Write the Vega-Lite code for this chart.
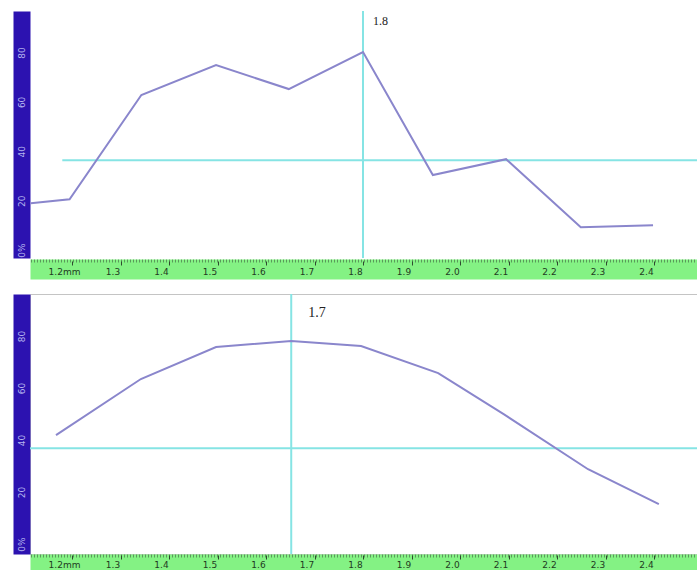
{
  "$schema": "https://vega.github.io/schema/vega-lite/v6.json",
  "background": "white",
  "padding": {"left": 17, "top": 10, "right": 0, "bottom": 0},
  "spacing": 36,
  "bounds": "flush",
  "config": {"view": {"stroke": null}, "font": "DejaVu Sans"},
  "vconcat": [
    {
      "width": 668,
      "height": 247,
      "resolve": {"axis": {"x": "independent", "y": "independent"}},
      "layer": [
        {
          "data": {"values": [{"start": 1.18, "end": 2.4907, "level": 36.4}]},
          "mark": {"type": "rule", "color": "#86e4e4", "strokeWidth": 2},
          "encoding": {
            "x": {"field": "start", "type": "quantitative", "scale": {"domain": [1.1134, 2.4907], "nice": false, "zero": false},
              "axis": {"orient": "bottom", "labels": false, "ticks": false, "grid": false, "title": null,
                "domainColor": "#84f284", "domainWidth": 20, "offset": 11, "zindex": 0}},
            "x2": {"field": "end"},
            "y": {"field": "level", "type": "quantitative", "scale": {"domain": [-3.2, 96.8], "nice": false, "zero": false},
              "axis": {"orient": "left", "labels": false, "ticks": false, "grid": false, "title": null,
                "domainColor": "#2c12b0", "domainWidth": 17, "offset": 8.5, "zindex": 0}}
          }
        },
        {
          "data": {"values": [{"cursor": 1.8, "label": "1.8"}]},
          "mark": {"type": "rule", "color": "#86e4e4", "strokeWidth": 2},
          "encoding": {
            "x": {"field": "cursor", "type": "quantitative", "axis": null}
          }
        },
        {
          "data": {"values": [{"tick": -3.2}]},
          "mark": {"type": "rule", "color": "#3d5f3d", "strokeWidth": 3, "strokeDash": [1, 2], "yOffset": 3, "opacity": 0.6},
          "encoding": {"y": {"field": "tick", "type": "quantitative", "axis": null}}
        },
        {
          "data": {"values": [
            {"pos": 1.115, "amp": 19.0}, {"pos": 1.195, "amp": 20.6}, {"pos": 1.343, "amp": 62.8},
            {"pos": 1.497, "amp": 74.9}, {"pos": 1.647, "amp": 65.2}, {"pos": 1.8, "amp": 80.2},
            {"pos": 1.944, "amp": 30.4}, {"pos": 2.095, "amp": 36.8}, {"pos": 2.249, "amp": 9.3},
            {"pos": 2.398, "amp": 10.1}
          ]},
          "mark": {"type": "line", "color": "#8a86cc", "strokeWidth": 2},
          "encoding": {
            "x": {"field": "pos", "type": "quantitative",
              "axis": {"orient": "bottom", "values": [1.2, 1.3, 1.4, 1.5, 1.6, 1.7, 1.8, 1.9, 2.0, 2.1, 2.2, 2.3, 2.4, 2.5],
                "labelExpr": "datum.value == 1.2 ? '1.2mm' : datum.label", "title": null, "grid": false,
                "domain": false, "offset": 7, "ticks": true, "tickSize": -4, "tickColor": "#2f4a2f", "tickWidth": 1, "zindex": 2,
                "labelPadding": 10, "labelBaseline": "middle", "labelAlign": "center", "labelOffset": -8,
                "labelFontSize": 9, "labelColor": "#1f3a1f", "labelFlush": false, "labelOverlap": false, "labelBound": false}},
            "y": {"field": "amp", "type": "quantitative",
              "axis": {"orient": "left", "values": [0, 20, 40, 60, 80], "labelExpr": "datum.value == 0 ? '0%' : datum.label",
                "title": null, "grid": false, "domain": false, "offset": 8.5, "zindex": 2,
                "ticks": false, "tickSize": 0, "labelPadding": 0, "labelAngle": 270, "labelAlign": "center",
                "labelBaseline": "middle", "labelFontSize": 9, "labelColor": "#b4b4ee", "labelFlush": false,
                "labelOverlap": false, "labelBound": false}}
          }
        },
        {
          "data": {"values": [{"cursor": 1.8, "label": "1.8"}]},
          "mark": {"type": "text", "font": "Liberation Serif", "fontSize": 12, "align": "left", "baseline": "middle", "dx": 10, "color": "#222222"},
          "encoding": {
            "x": {"field": "cursor", "type": "quantitative", "axis": null},
            "y": {"datum": 92.7, "axis": null},
            "text": {"field": "label"}
          }
        },
        {
          "mark": {"type": "text", "text": "(a)", "font": "Liberation Serif", "fontSize": 24, "align": "right", "baseline": "middle", "color": "#111111"},
          "encoding": {
            "x": {"datum": 2.456, "axis": null},
            "y": {"datum": 92.7, "axis": null}
          }
        }
      ]
    },
    {
      "width": 668,
      "height": 260,
      "view": {"stroke": "#c4c4c4", "strokeWidth": 1},
      "resolve": {"axis": {"x": "independent", "y": "independent"}},
      "layer": [
        {
          "data": {"values": [{"start": 1.1134, "end": 2.4907, "level": 36.9}]},
          "mark": {"type": "rule", "color": "#86e4e4", "strokeWidth": 2},
          "encoding": {
            "x": {"field": "start", "type": "quantitative", "scale": {"domain": [1.1134, 2.4907], "nice": false, "zero": false},
              "axis": {"orient": "bottom", "labels": false, "ticks": false, "grid": false, "title": null,
                "domainColor": "#84f284", "domainWidth": 18, "offset": 9, "zindex": 0}},
            "x2": {"field": "end"},
            "y": {"field": "level", "type": "quantitative", "scale": {"domain": [-3.8, 96.2], "nice": false, "zero": false},
              "axis": {"orient": "left", "labels": false, "ticks": false, "grid": false, "title": null,
                "domainColor": "#2c12b0", "domainWidth": 17, "offset": 8.5, "zindex": 0}}
          }
        },
        {
          "data": {"values": [{"cursor": 1.652, "label": "1.7"}]},
          "mark": {"type": "rule", "color": "#86e4e4", "strokeWidth": 2},
          "encoding": {
            "x": {"field": "cursor", "type": "quantitative", "axis": null}
          }
        },
        {
          "data": {"values": [{"tick": -3.8}]},
          "mark": {"type": "rule", "color": "#3d5f3d", "strokeWidth": 3, "strokeDash": [1, 2], "yOffset": 2, "opacity": 0.6},
          "encoding": {"y": {"field": "tick", "type": "quantitative", "axis": null}}
        },
        {
          "data": {"values": [
            {"pos": 1.167, "amp": 41.9}, {"pos": 1.342, "amp": 63.5}, {"pos": 1.497, "amp": 75.8},
            {"pos": 1.652, "amp": 78.1}, {"pos": 1.796, "amp": 76.2}, {"pos": 1.955, "amp": 65.8},
            {"pos": 2.09, "amp": 50.0}, {"pos": 2.264, "amp": 28.8}, {"pos": 2.41, "amp": 15.4}
          ]},
          "mark": {"type": "line", "color": "#8a86cc", "strokeWidth": 2},
          "encoding": {
            "x": {"field": "pos", "type": "quantitative",
              "axis": {"orient": "bottom", "values": [1.2, 1.3, 1.4, 1.5, 1.6, 1.7, 1.8, 1.9, 2.0, 2.1, 2.2, 2.3, 2.4, 2.5],
                "labelExpr": "datum.value == 1.2 ? '1.2mm' : datum.label", "title": null, "grid": false,
                "domain": false, "offset": 5, "ticks": true, "tickSize": -4, "tickColor": "#2f4a2f", "tickWidth": 1, "zindex": 2,
                "labelPadding": 9, "labelBaseline": "middle", "labelAlign": "center", "labelOffset": -8,
                "labelFontSize": 9, "labelColor": "#1f3a1f", "labelFlush": false, "labelOverlap": false, "labelBound": false}},
            "y": {"field": "amp", "type": "quantitative",
              "axis": {"orient": "left", "values": [0, 20, 40, 60, 80], "labelExpr": "datum.value == 0 ? '0%' : datum.label",
                "title": null, "grid": false, "domain": false, "offset": 8.5, "zindex": 2,
                "ticks": false, "tickSize": 0, "labelPadding": 0, "labelAngle": 270, "labelAlign": "center",
                "labelBaseline": "middle", "labelFontSize": 9, "labelColor": "#b4b4ee", "labelFlush": false,
                "labelOverlap": false, "labelBound": false}}
          }
        },
        {
          "data": {"values": [{"cursor": 1.652, "label": "1.7"}]},
          "mark": {"type": "text", "font": "Liberation Serif", "fontSize": 14, "align": "left", "baseline": "middle", "dx": 17, "color": "#222222"},
          "encoding": {
            "x": {"field": "cursor", "type": "quantitative", "axis": null},
            "y": {"datum": 88.8, "axis": null},
            "text": {"field": "label"}
          }
        },
        {
          "mark": {"type": "text", "text": "(b)", "font": "Liberation Serif", "fontSize": 27, "align": "right", "baseline": "middle", "color": "#111111"},
          "encoding": {
            "x": {"datum": 2.466, "axis": null},
            "y": {"datum": 89, "axis": null}
          }
        }
      ]
    }
  ]
}
